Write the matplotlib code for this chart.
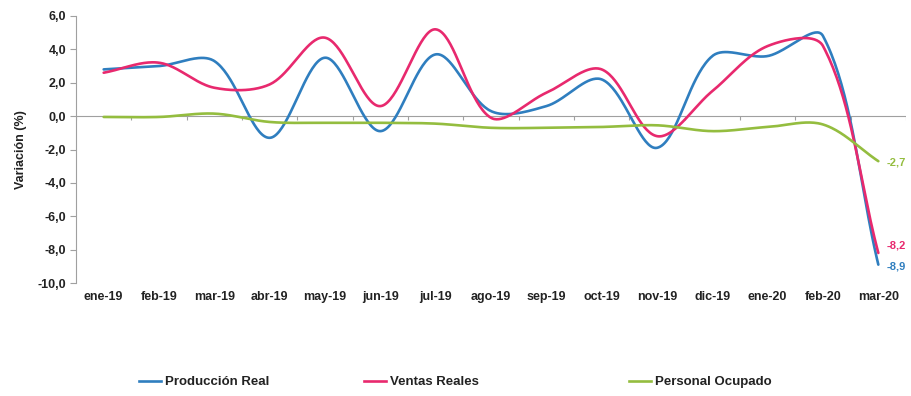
import numpy as np
import matplotlib
matplotlib.use("Agg")
import matplotlib.pyplot as plt
from matplotlib.lines import Line2D
from matplotlib.ticker import FuncFormatter

plt.rcParams['font.family'] = ['Liberation Sans', 'DejaVu Sans']

months = ["ene-19", "feb-19", "mar-19", "abr-19", "may-19", "jun-19", "jul-19",
          "ago-19", "sep-19", "oct-19", "nov-19", "dic-19", "ene-20", "feb-20", "mar-20"]
produccion = [2.8, 3.0, 3.3, -1.3, 3.5, -0.9, 3.7, 0.3, 0.6, 2.2, -1.9, 3.6, 3.6, 4.8, -8.9]
ventas = [2.6, 3.2, 1.7, 1.9, 4.7, 0.6, 5.2, -0.1, 1.4, 2.8, -1.2, 1.5, 4.2, 4.2, -8.2]
personal = [-0.05, -0.05, 0.15, -0.35, -0.4, -0.4, -0.45, -0.7, -0.7, -0.65, -0.55, -0.9, -0.65, -0.5, -2.7]

series = [
    ("Producción Real", produccion, "#2F7EBF"),
    ("Ventas Reales", ventas, "#E8296E"),
    ("Personal Ocupado", personal, "#94BD3F"),
]

# approximate screen scale (pixels per category / per unit) for the smoothing weights
SX, SY = 55.4, 16.7


def smooth(x, y, n=40):
    """Smoothed line through the points: Bezier segments whose tangents are
    weighted by neighbouring segment lengths (spreadsheet-style smoothing)."""
    P = np.column_stack([np.asarray(x, float) * SX, np.asarray(y, float) * SY])
    P = np.vstack([P[0], P, P[-1]])
    t = np.linspace(0, 1, n, endpoint=False)[:, None]
    out = []
    for i in range(1, len(P) - 2):
        p0, p1, p2, p3 = P[i - 1], P[i], P[i + 1], P[i + 2]
        d01 = np.linalg.norm(p1 - p0)
        d12 = np.linalg.norm(p2 - p1)
        d23 = np.linalg.norm(p3 - p2)
        w1 = d12 / (d01 + d12) if d01 + d12 > 0 else 0.5
        w2 = d12 / (d12 + d23) if d12 + d23 > 0 else 0.5
        c1 = p1 + (p2 - p0) * w1 / 3.0
        c2 = p2 - (p3 - p1) * w2 / 3.0
        b = (1 - t) ** 3 * p1 + 3 * (1 - t) ** 2 * t * c1 + 3 * (1 - t) * t ** 2 * c2 + t ** 3 * p2
        out.append(b)
    out.append(P[-2][None, :])
    out = np.vstack(out)
    return out[:, 0] / SX, out[:, 1] / SY


fig = plt.figure(figsize=(9.12, 3.96), dpi=100)
ax = fig.add_axes([76 / 912, 1 - 283 / 396, 830 / 912, 267 / 396])

AXIS_GRAY = "#a0a0a0"
n = len(months)
x = np.arange(n)

# horizontal axis crossing at zero, with tick marks between categories
ax.axhline(0, color=AXIS_GRAY, lw=0.8, zorder=1)
ax.vlines(np.arange(-0.5, n, 1.0), -0.25, 0, color=AXIS_GRAY, lw=0.8, zorder=1)

handles = []
for name, vals, color in series:
    sx, sy = smooth(x, vals)
    ax.plot(sx, sy, color=color, lw=1.9, solid_capstyle='round', zorder=3)
    handles.append(Line2D([], [], color=color, lw=1.9))

ax.set_xlim(-0.5, n - 0.5)
ax.set_ylim(-10, 6)
ax.set_yticks(np.arange(-10, 6.1, 2))
ax.yaxis.set_major_formatter(FuncFormatter(lambda v, p: f"{v:.1f}".replace(".", ",")))

# category labels along the bottom
ax.set_xticks(x)
ax.set_xticklabels(months)
ax.tick_params(axis='x', length=0, pad=6, labelsize=9)
ax.tick_params(axis='y', length=4, width=0.8, color=AXIS_GRAY, labelsize=9, pad=3)
for lab in ax.get_xticklabels() + ax.get_yticklabels():
    lab.set_fontweight('bold')
    lab.set_color("#222222")

for s in ("top", "right", "bottom"):
    ax.spines[s].set_visible(False)
ax.spines["left"].set_color(AXIS_GRAY)
ax.spines["left"].set_linewidth(0.8)

ax.set_ylabel("Variación (%)", fontsize=9, fontweight='bold', color="#222222", labelpad=8)

# end-point value labels
last = n - 1
offsets = {"Producción Real": -0.1, "Ventas Reales": 0.45, "Personal Ocupado": -0.1}
for name, vals, color in series:
    ax.annotate(f"{vals[-1]:.1f}".replace(".", ","), xy=(last, vals[-1]),
                xytext=(last + 0.15, vals[-1] + offsets[name]),
                fontsize=8, fontweight='bold', color=color, va='center', ha='left',
                annotation_clip=False)

# legend entries spread across the bottom
legend_x = [137 / 912, 362 / 912, 627 / 912]
for h, (name, _, _), lx in zip(handles, series, legend_x):
    leg = fig.legend([h], [name], loc='center left', bbox_to_anchor=(lx - 0.011, 1 - 382 / 396),
                     frameon=False, handlelength=1.7, handletextpad=0.25,
                     prop={'size': 9.5, 'weight': 'bold'})
    for t in leg.get_texts():
        t.set_color("#222222")

fig.savefig("out.png", dpi=100)
